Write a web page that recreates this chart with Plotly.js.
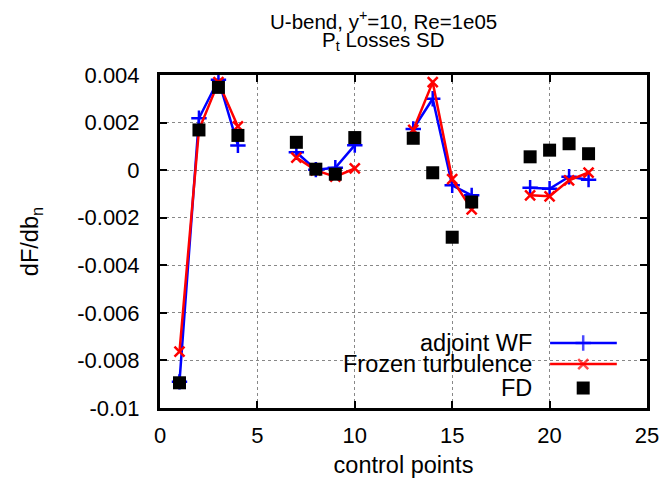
<!DOCTYPE html>
<html>
<head>
<meta charset="utf-8">
<script src="https://cdn.plot.ly/plotly-3.0.1.min.js"></script>
<style>html,body{margin:0;padding:0;background:#fff;}#chart{width:662px;height:490px;}</style>
</head>
<body>
<div id="chart"></div>
<script>
// Control points (gaps between groups as null)
const controlPoints = [1, 2, 3, 4, null, 7, 8, 9, 10, null, 13, 14, 15, 16, null, 19, 20, 21, 22];
const adjointWF = [-0.0089, 0.00218, 0.0038, 0.00104, null, 0.00075, 0.00002, 0.0001, 0.00105, null, 0.00173, 0.0030, -0.00064, -0.00106, null, -0.00074, -0.00078, -0.00028, -0.0004];
const frozenTurb = [-0.00763, 0.0017, 0.0037, 0.00184, null, 0.00053, -0.00001, -0.00027, 0.00007, null, 0.00169, 0.0037, -0.00038, -0.00165, null, -0.00106, -0.0011, -0.00043, -0.0001];
const fdPoints = [1, 2, 3, 4, 7, 8, 9, 10, 13, 14, 15, 16, 19, 20, 21, 22];
const fdValues = [-0.00894, 0.00169, 0.00348, 0.00146, 0.00117, 0.00004, -0.00017, 0.00137, 0.00134, -0.00011, -0.00282, -0.00134, 0.00056, 0.00084, 0.00111, 0.00069];

const xTicks = [0, 5, 10, 15, 20, 25];
const yTicks = [-0.01, -0.008, -0.006, -0.004, -0.002, 0, 0.002, 0.004];
const yTickText = ["-0.01", "-0.008", "-0.006", "-0.004", "-0.002", "0", "0.002", "0.004"];

const seriesNames = ["adjoint WF", "Frozen turbulence", "FD"];
const seriesColors = ["#0000ff", "#ff0000", "#000000"];
const titleLines = ["U-bend, y<sup>+</sup>=10, Re=1e05", "P<sub>t</sub> Losses SD"];

const FONT = "Liberation Sans, Arial, Helvetica, sans-serif";

const traces = [
  {
    x: controlPoints, y: adjointWF, mode: "lines+markers", connectgaps: false,
    line: {color: seriesColors[0], width: 2.5},
    marker: {symbol: "cross-thin", size: 11, color: seriesColors[0], line: {color: seriesColors[0], width: 2.5}},
    showlegend: false
  },
  {
    x: controlPoints, y: frozenTurb, mode: "lines+markers", connectgaps: false,
    line: {color: seriesColors[1], width: 2.5},
    marker: {symbol: "x-thin", size: 10, color: seriesColors[1], line: {color: seriesColors[1], width: 2.5}},
    showlegend: false
  },
  {
    x: fdPoints, y: fdValues, mode: "markers",
    marker: {symbol: "square", size: 13, color: seriesColors[2]},
    showlegend: false
  }
];

// Custom gnuplot-style legend (text on the left, sample on the right)
const legY = [0.195, 0.132, 0.060];
const legX0 = 0.801, legX1 = 0.938, legXm = 0.869, legTextX = 0.768;
const annotations = [];
seriesNames.forEach((name, i) => {
  annotations.push({
    xref: "paper", yref: "paper", x: legTextX, y: legY[i], text: name,
    showarrow: false, xanchor: "right", yanchor: "middle",
    font: {family: FONT, size: 23.5, color: "#000"}
  });
});
// Title as two centred lines
annotations.push({
  xref: "paper", yref: "paper", x: 0.458, y: 1.165, text: titleLines[0],
  showarrow: false, xanchor: "center", yanchor: "middle",
  font: {family: FONT, size: 20.5, color: "#000"}
});
annotations.push({
  xref: "paper", yref: "paper", x: 0.458, y: 1.101, text: titleLines[1],
  showarrow: false, xanchor: "center", yanchor: "middle",
  font: {family: FONT, size: 20.5, color: "#000"}
});
// legend samples on an overlay axis in [0,1]
traces.push({
  x: [legX0, legXm, legX1], y: [legY[0], legY[0], legY[0]], xaxis: "x2", yaxis: "y2",
  mode: "lines+markers", line: {color: seriesColors[0], width: 2.5},
  marker: {symbol: "cross-thin", size: [0, 11, 0], color: seriesColors[0], line: {color: seriesColors[0], width: 2.5}},
  showlegend: false, hoverinfo: "skip"
});
traces.push({
  x: [legX0, legXm, legX1], y: [legY[1], legY[1], legY[1]], xaxis: "x2", yaxis: "y2",
  mode: "lines+markers", line: {color: seriesColors[1], width: 2.5},
  marker: {symbol: "x-thin", size: [0, 10, 0], color: seriesColors[1], line: {color: seriesColors[1], width: 2.5}},
  showlegend: false, hoverinfo: "skip"
});
traces.push({
  x: [legXm], y: [legY[2]], xaxis: "x2", yaxis: "y2",
  mode: "markers", marker: {symbol: "square", size: 13, color: seriesColors[2]},
  showlegend: false, hoverinfo: "skip"
});

const layout = {
  width: 662, height: 490,
  margin: {l: 160, r: 15, t: 75, b: 82},
  paper_bgcolor: "#fff", plot_bgcolor: "#fff",
  font: {family: FONT, size: 22, color: "#000"},
  xaxis: {
    range: [0, 25], tickvals: xTicks, ticktext: xTicks.map(String),
    showline: true, linecolor: "#000", linewidth: 3, mirror: "ticks",
    ticks: "inside", ticklen: 7, tickwidth: 2, tickcolor: "#000",
    showgrid: true, gridcolor: "#888", griddash: "dot", gridwidth: 1.2,
    zeroline: false, ticklabelstandoff: 6,
    tickfont: {family: FONT, size: 22},
    title: {text: "control points", font: {family: FONT, size: 23.5}, standoff: 10}
  },
  yaxis: {
    range: [-0.01, 0.004], tickvals: yTicks, ticktext: yTickText,
    showline: true, linecolor: "#000", linewidth: 3, mirror: "ticks",
    ticks: "inside", ticklen: 7, tickwidth: 2, tickcolor: "#000",
    showgrid: true, gridcolor: "#888", griddash: "dot", gridwidth: 1.2,
    zeroline: false, ticklabelstandoff: 13,
    tickfont: {family: FONT, size: 22},
    title: {text: "dF/db<sub>n</sub>", font: {family: FONT, size: 23.5}, standoff: 32}
  },
  xaxis2: {range: [0, 1], overlaying: "x", visible: false, fixedrange: true},
  yaxis2: {range: [0, 1], overlaying: "y", visible: false, fixedrange: true},
  annotations: annotations,
  showlegend: false
};

Plotly.newPlot("chart", traces, layout, {displayModeBar: false, staticPlot: true});
</script>
</body>
</html>
